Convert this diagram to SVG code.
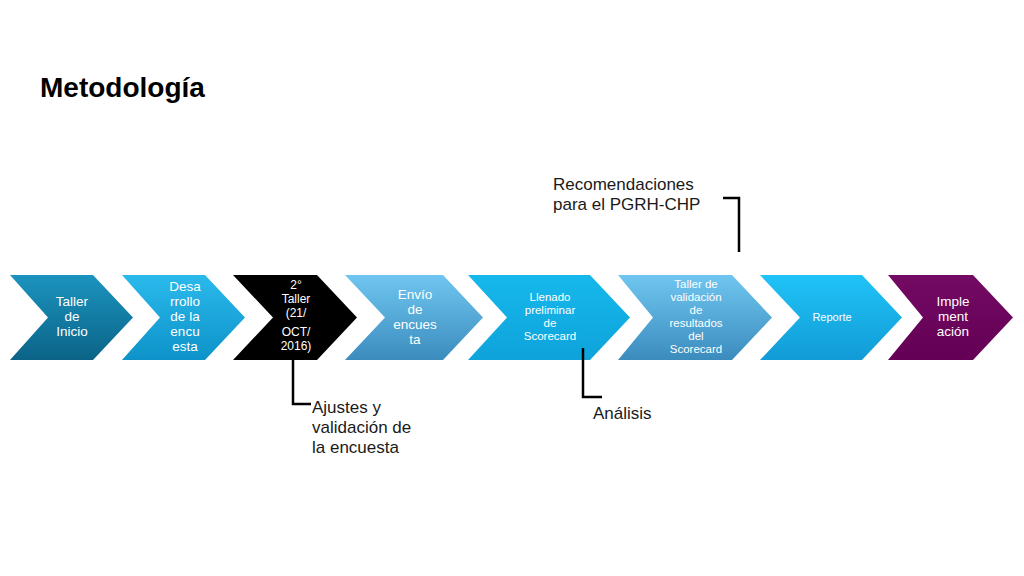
<svg xmlns="http://www.w3.org/2000/svg" width="1024" height="576" viewBox="0 0 1024 576">
<defs>
<linearGradient id="g1" x1="0" y1="0" x2="0" y2="1"><stop offset="0" stop-color="#1b93bf"/><stop offset="1" stop-color="#0b6487"/></linearGradient>
<linearGradient id="g2" x1="0" y1="0" x2="0" y2="1"><stop offset="0" stop-color="#2bb9ec"/><stop offset="1" stop-color="#0d93c9"/></linearGradient>
<linearGradient id="g4" x1="0" y1="0" x2="0" y2="1"><stop offset="0" stop-color="#6fc6f0"/><stop offset="1" stop-color="#3b8cbd"/></linearGradient>
<linearGradient id="g5" x1="0" y1="0" x2="0" y2="1"><stop offset="0" stop-color="#16b8ec"/><stop offset="1" stop-color="#0ea3da"/></linearGradient>
<linearGradient id="g7" x1="0" y1="0" x2="0" y2="1"><stop offset="0" stop-color="#1fc3f7"/><stop offset="1" stop-color="#129bd6"/></linearGradient>
<linearGradient id="g8" x1="0" y1="0" x2="0" y2="1"><stop offset="0" stop-color="#730a63"/><stop offset="1" stop-color="#640056"/></linearGradient>
</defs>
<style>
text{font-family:"Liberation Sans",Arial,sans-serif}
.t{fill:#ffffff;text-anchor:middle}
.c{fill:#1a1a1a;font-size:17px}
.ln{fill:none;stroke:#000000;stroke-width:2.5}
</style>
<text x="40" y="97" font-size="28" font-weight="bold" fill="#000">Metodología</text>

<g id="n1"><polygon points="10,275 93,275 133,317.5 93,360 10,360 48,317.5" fill="url(#g1)"/>
<text class="t" font-size="13.5"><tspan x="72" y="306">Taller</tspan><tspan x="72" y="321">de</tspan><tspan x="72" y="336">Inicio</tspan></text></g>

<g id="n2"><polygon points="122,275 205,275 245,317.5 205,360 122,360 160,317.5" fill="url(#g2)"/>
<text class="t" font-size="13.5"><tspan x="185" y="291">Desa</tspan><tspan x="185" y="306">rrollo</tspan><tspan x="185" y="321">de la</tspan><tspan x="185" y="336">encu</tspan><tspan x="185" y="351">esta</tspan></text></g>

<g id="n3"><polygon points="233,275 317,275 357,317.5 317,360 233,360 273,317.5" fill="#000"/>
<text class="t" font-size="12"><tspan x="296" y="289">2°</tspan><tspan x="296" y="303">Taller</tspan><tspan x="296" y="317">(21/</tspan><tspan x="296" y="336">OCT/</tspan><tspan x="296" y="350">2016)</tspan></text></g>

<g id="n4"><polygon points="345,275 443,275 483,317.5 443,360 345,360 385,317.5" fill="url(#g4)"/>
<text class="t" font-size="13.5"><tspan x="415" y="299">Envío</tspan><tspan x="415" y="314">de</tspan><tspan x="415" y="329">encues</tspan><tspan x="415" y="344">ta</tspan></text></g>

<g id="n5"><polygon points="468,275 590,275 630,317.5 590,360 468,360 507,317.5" fill="url(#g5)"/>
<text class="t" font-size="11.5"><tspan x="550" y="301">Llenado</tspan><tspan x="550" y="314">preliminar</tspan><tspan x="550" y="327">de</tspan><tspan x="550" y="340">Scorecard</tspan></text></g>

<g id="n6"><polygon points="618,275 732,275 772,317.5 732,360 618,360 653,317.5" fill="url(#g4)"/>
<text class="t" font-size="11.5"><tspan x="696" y="288">Taller de</tspan><tspan x="696" y="301">validación</tspan><tspan x="696" y="314">de</tspan><tspan x="696" y="327">resultados</tspan><tspan x="696" y="340">del</tspan><tspan x="696" y="353">Scorecard</tspan></text></g>

<g id="n7"><polygon points="760,275 862,275 902,317.5 862,360 760,360 800,317.5" fill="url(#g7)"/>
<text class="t" font-size="11"><tspan x="832" y="321">Reporte</tspan></text></g>

<g id="n8"><polygon points="888,275 973,275 1013,317.5 973,360 888,360 923,317.5" fill="url(#g8)"/>
<text class="t" font-size="13.5"><tspan x="953" y="306">Imple</tspan><tspan x="953" y="321">ment</tspan><tspan x="953" y="336">ación</tspan></text></g>

<g id="connectors">
<polyline class="ln" points="293,357 293,404 311,404"/>
<polyline class="ln" points="583,348 583,397 602,397"/>
<polyline class="ln" points="723,198 739,198 739,252"/>
</g>

<g id="callout-ajustes"><text class="c"><tspan x="312" y="413">Ajustes y</tspan><tspan x="312" y="433">validación de</tspan><tspan x="312" y="453">la encuesta</tspan></text></g>
<g id="callout-analisis"><text class="c" x="593" y="419">Análisis</text></g>
<g id="callout-recom"><text class="c"><tspan x="553" y="190">Recomendaciones</tspan><tspan x="553" y="210">para el PGRH-CHP</tspan></text></g>
</svg>
